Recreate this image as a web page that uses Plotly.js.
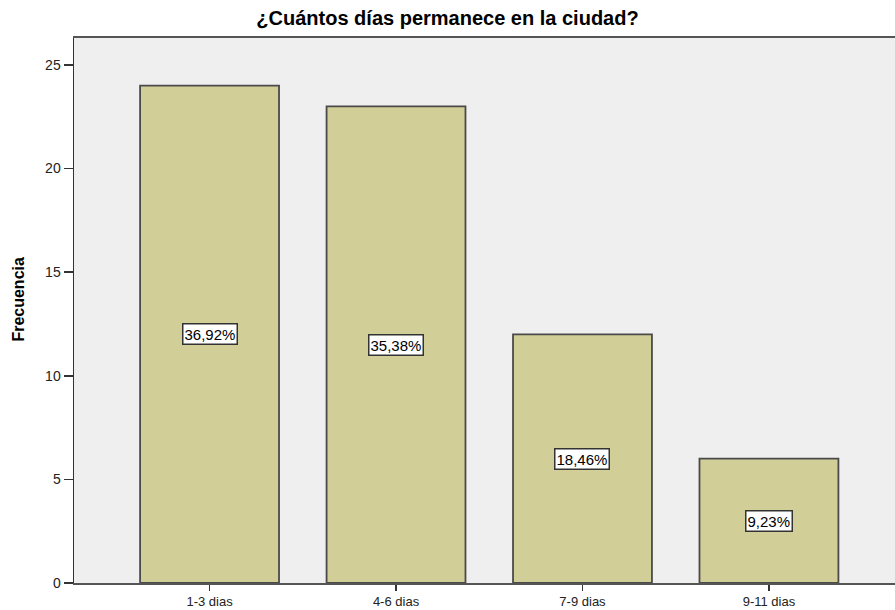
<!DOCTYPE html>
<html>
<head>
<meta charset="utf-8">
<script src="https://cdn.plot.ly/plotly-3.0.1.min.js"></script>
<style>html,body{margin:0;padding:0;background:#fff;}#chart{width:895px;height:610px;}</style>
</head>
<body>
<div id="chart"></div>
<script>
const categories = ["1-3 dias", "4-6 dias", "7-9 dias", "9-11 dias"];
const frequencies = [24, 23, 12, 6];
const percentLabels = ["36,92%", "35,38%", "18,46%", "9,23%"];

const FONT = 'Arial, Liberation Sans, sans-serif';
const annotations = categories.map((c, i) => ({
  x: c, y: frequencies[i] / 2, xref: 'x', yref: 'y',
  text: percentLabels[i], showarrow: false,
  font: {family: FONT, size: 15, color: '#000'},
  bgcolor: '#ffffff', bordercolor: '#333333', borderwidth: 1.5, borderpad: 1
}));
annotations.push({
  text: 'Frecuencia', xref: 'paper', yref: 'paper', x: 0, y: 0.52,
  xanchor: 'center', yanchor: 'middle', xshift: -55, textangle: -90, showarrow: false,
  font: {family: FONT, size: 16, color: '#000', weight: 'bold'}
});

Plotly.newPlot('chart', [{
  type: 'bar', x: categories, y: frequencies, width: 0.745,
  marker: {color: '#D2CE98', line: {color: '#4a4a4a', width: 1.8}},
  hoverinfo: 'none'
}], {
  width: 895, height: 610,
  margin: {l: 74, r: 0, t: 38, b: 27},
  paper_bgcolor: '#ffffff', plot_bgcolor: '#EFEFEF',
  showlegend: false,
  title: {text: '¿Cuántos días permanece en la ciudad?', x: 0.5, xanchor: 'center', y: 0.97, yanchor: 'middle',
    font: {family: FONT, size: 20, color: '#000', weight: 'bold'}},
  xaxis: {type: 'category', range: [-0.727, 3.676], showline: true, linecolor: '#555', linewidth: 1.8, mirror: true,
    ticks: 'outside', ticklen: 6, tickwidth: 1.5, tickcolor: '#333', showgrid: false, zeroline: false,
    tickfont: {family: FONT, size: 13, color: '#222'}},
  yaxis: {range: [0, 26.3], tickvals: [0, 5, 10, 15, 20, 25], showline: true, linecolor: '#333', linewidth: 1.5,
    ticks: 'outside', ticklen: 9, tickwidth: 1.5, tickcolor: '#333', showgrid: false, zeroline: false,
    tickfont: {family: FONT, size: 14, color: '#222'}},
  annotations: annotations
}, {displayModeBar: false, staticPlot: true});
</script>
</body>
</html>
